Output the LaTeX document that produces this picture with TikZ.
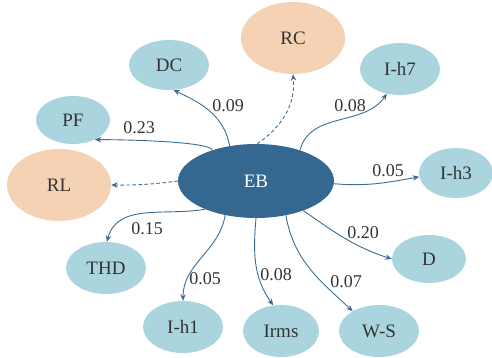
\documentclass[tikz,border=0pt]{standalone}
\usepackage{fontspec}
\setmainfont{Liberation Serif}
\usetikzlibrary{shapes.geometric,arrows.meta}
\definecolor{ebblue}{HTML}{356891}
\definecolor{lblue}{HTML}{AAD5DF}
\definecolor{peach}{HTML}{F6D2B5}
\definecolor{txt}{HTML}{333333}
\definecolor{edgec}{HTML}{3A6D95}
\begin{document}
\begin{tikzpicture}[x=1pt,y=1pt,
  every node/.style={font=\fontsize{19}{21}\selectfont, text=txt},
  bub/.style={ellipse, fill=lblue, inner sep=0pt},
  ctrl/.style={ellipse, fill=peach, inner sep=0pt},
  lab/.style={font=\fontsize{18}{20}\selectfont, text=txt, inner sep=0pt},
  conn/.style={draw=edgec, line width=0.9pt, -{Stealth[length=6.5pt,width=5.5pt]}},
  dconn/.style={conn, dashed, dash pattern=on 3.5pt off 2.5pt}]
\useasboundingbox (0,0) rectangle (492,-358);
\node[ellipse, fill=ebblue, minimum width=156pt, minimum height=74pt, inner sep=0pt, text=white] (eb) at (256,-181) {EB};
\node[bub, minimum width=80pt, minimum height=50pt] (dc) at (169,-65) {DC};
\node[bub, minimum width=74pt, minimum height=48pt] (pf) at (73,-120) {PF};
\node[ctrl, minimum width=104pt, minimum height=72pt] (rl) at (59,-185) {RL};
\node[ctrl, minimum width=104pt, minimum height=72pt] (rc) at (293,-38) {RC};
\node[bub, minimum width=80pt, minimum height=52pt] (ih7) at (400,-69) {I-h7};
\node[bub, minimum width=74pt, minimum height=50pt] (ih3) at (456,-173) {I-h3};
\node[bub, minimum width=80pt, minimum height=52pt] (thd) at (106,-268) {THD};
\node[bub, minimum width=80pt, minimum height=52pt] (ih1) at (183,-327) {I-h1};
\node[bub, minimum width=76pt, minimum height=52pt] (irms) at (281,-331) {Irms};
\node[bub, minimum width=80pt, minimum height=52pt] (ws) at (379,-331) {W-S};
\node[bub, minimum width=74pt, minimum height=48pt] (d) at (429,-259) {D};

\draw[conn] (eb.127) to[out=100,in=-25] (dc.-80);
\draw[conn] (eb.145) .. controls +(0,8) and +(40,0) .. (pf.-42);
\draw[dconn] (eb.88) to[out=35,in=-85] (rc.south);
\draw[conn] (eb.35) to[out=75,in=-125] (ih7.-118);
\draw[conn] (eb.-2) to[out=-5,in=190] (ih3.186);
\draw[dconn] (eb.west) to[bend left=4] (rl.east);
\draw[conn] (eb.-151) to[out=190,in=75] (thd.88);
\draw[conn] (eb.-132) to[out=-100,in=90] (ih1.north);
\draw[conn] (eb.-90) to[out=-95,in=125] (irms.107);
\draw[conn] (eb.-49) to[out=-80,in=137] (ws.143);
\draw[conn] (eb.-32) to[out=-35,in=162] (d.west);

\node[lab] (l1) at (228,-106) {0.09};
\node[lab] (l2) at (139,-128) {0.23};
\node[lab] (l3) at (350,-106) {0.08};
\node[lab] (l4) at (388,-171) {0.05};
\node[lab] (l5) at (147,-229) {0.15};
\node[lab] (l6) at (205,-279) {0.05};
\node[lab] (l7) at (276,-275) {0.08};
\node[lab] (l8) at (346,-282) {0.07};
\node[lab] (l9) at (363,-233) {0.20};
\end{tikzpicture}
\end{document}
